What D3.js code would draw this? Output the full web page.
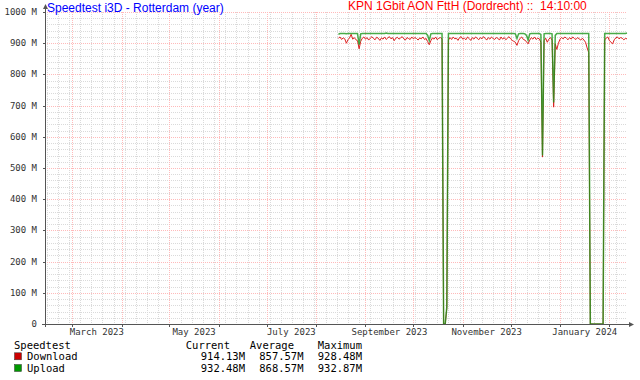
<!DOCTYPE html>
<html>
<head>
<meta charset="utf-8">
<script src="https://cdn.jsdelivr.net/npm/d3@7"></script>
<style>
  body { margin: 0; background: #fff; }
  svg { display: block; }
</style>
</head>
<body>
<svg id="chart" width="640" height="380"></svg>
<script>
// time window of the graph (one year) and first day with measurements
const rangeStart = "2023-02-12";
const rangeEnd = "2024-02-12";
const dataStart = "2023-08-15";

// daily averages in Mbit/s, one value per day starting at dataStart
const download = [
  916, 920, 912, 917, 914, 900, 911, 917, 928.48, 913,
  918, 911, 908, 882, 906, 916, 920, 913, 918, 910,
  916, 921, 915, 911, 919, 916, 909, 917, 913, 920,
  912, 917, 921, 914, 918, 908, 916, 919, 913, 917,
  921, 914, 910, 918, 915, 912, 920, 914, 918, 915,
  910, 917, 914, 920, 912, 915, 905, 895, 908, 917,
  913, 920, 911, 916, 918, 914, 0, 0, 50, 910,
  918, 912, 920, 914, 916, 909, 918, 921, 913, 916,
  911, 920, 915, 909, 918, 913, 920, 916, 911, 918,
  914, 921, 916, 910, 918, 913, 920, 915, 912, 918,
  916, 910, 920, 913, 918, 911, 916, 921, 914, 909,
  906, 903, 893, 908, 916, 920, 912, 910, 904, 898,
  910, 918, 913, 920, 912, 916, 914, 903, 535, 908,
  916, 903, 913, 918, 910, 695, 898, 880, 900, 913,
  918, 914, 920, 916, 911, 918, 913, 920, 915, 912,
  918, 914, 910, 916, 910, 903, 885, 870, 0, 0,
  0, 0, 0, 0, 0, 0, 0, 910, 917, 920,
  908, 903, 898, 911, 917, 920, 914, 918, 916, 911,
  915, 914.13
];
const upload = [
  928, 931, 931, 931, 931, 930, 931, 931, 931, 931,
  931, 931, 931, 895, 930, 931, 931, 931, 931, 931,
  931, 931, 931, 931, 931, 931, 931, 931, 931, 931,
  932.87, 931, 931, 931, 931, 931, 931, 931, 931, 931,
  931, 931, 931, 931, 931, 931, 931, 931, 931, 931,
  931, 931, 931, 931, 931, 931, 925, 908, 930, 931,
  931, 931, 931, 931, 931, 931, 0, 0, 55, 931,
  931, 931, 931, 931, 931, 931, 931, 931, 931, 931,
  931, 931, 931, 931, 931, 931, 931, 931, 931, 931,
  931, 931, 931, 931, 931, 931, 931, 931, 931, 931,
  931, 931, 931, 931, 931, 931, 931, 931, 931, 931,
  931, 930, 915, 930, 931, 931, 931, 930, 925, 910,
  930, 931, 931, 931, 931, 931, 931, 928, 540, 930,
  931, 931, 931, 931, 930, 710, 925, 931, 931, 931,
  931, 931, 931, 931, 931, 931, 931, 931, 931, 931,
  931, 931, 931, 931, 931, 931, 931, 931, 0, 0,
  0, 0, 0, 0, 0, 0, 0, 931, 931, 931,
  931, 931, 931, 931, 931, 931, 931, 931, 931, 931,
  931, 932.48
];

const yTicks = [0, 100, 200, 300, 400, 500, 600, 700, 800, 900, 1000];
const yTickLabels = ["0", "100 M", "200 M", "300 M", "400 M", "500 M",
  "600 M", "700 M", "800 M", "900 M", "1000 M"];
const labelMonths = ["2023-03", "2023-05", "2023-07", "2023-09", "2023-11", "2024-01"];

const titleLeft = "Speedtest i3D - Rotterdam (year)";
const titleRight = "KPN 1Gbit AON FttH (Dordrecht) ::  14:10:00";
const legendTitle = "Speedtest";
const legendHeader = ["Current", "Average", "Maximum"];
const seriesNames = ["Download", "Upload"];
const seriesColors = ["#cc0000", "#009900"];
const currentValues = ["914.13M", "932.48M"];
const averageValues = ["857.57M", "868.57M"];
const maximumValues = ["928.48M", "932.87M"];

const svg = d3.select("#chart");
const plotL = 45, plotR = 627, plotT = 12, plotB = 324;
const mono = "'DejaVu Sans Mono', monospace";

const parseDay = d3.timeParse("%Y-%m-%d");
const parseMonth = d3.timeParse("%Y-%m");
const t0 = parseDay(rangeStart), t1 = parseDay(rangeEnd);
const day0 = parseDay(dataStart);

const x = d3.scaleTime().domain([t0, t1]).range([plotL, plotR]);
const y = d3.scaleLinear().domain([0, 1000]).range([plotB, plotT]);
const px = (v) => Math.round(v) + 0.5;

// grid
const minorColor = "#dadada", majorColor = "#ffbaba";
const grid = svg.append("g").attr("shape-rendering", "crispEdges");
const minorY = d3.range(0, 1001, 20).filter((v) => v % 100 !== 0);
grid.selectAll(".hmin").data(minorY).enter().append("line")
  .attr("x1", plotL).attr("x2", plotR)
  .attr("y1", (d) => px(y(d))).attr("y2", (d) => px(y(d)))
  .attr("stroke", minorColor).attr("stroke-dasharray", "1,1");
const minorX = d3.timeMonday.range(t0, t1);
grid.selectAll(".vmin").data(minorX).enter().append("line")
  .attr("y1", plotT).attr("y2", plotB)
  .attr("x1", (d) => px(x(d))).attr("x2", (d) => px(x(d)))
  .attr("stroke", minorColor).attr("stroke-dasharray", "1,1");
grid.selectAll(".hmaj").data(yTicks.slice(1)).enter().append("line")
  .attr("x1", plotL).attr("x2", plotR)
  .attr("y1", (d) => px(y(d))).attr("y2", (d) => px(y(d)))
  .attr("stroke", majorColor).attr("stroke-dasharray", "1,1");
const majorX = d3.timeMonth.range(t0, t1);
grid.selectAll(".vmaj").data(majorX).enter().append("line")
  .attr("y1", plotT).attr("y2", plotB)
  .attr("x1", (d) => px(x(d))).attr("x2", (d) => px(x(d)))
  .attr("stroke", majorColor).attr("stroke-dasharray", "1,1");

// series
const line = d3.line()
  .x((d, i) => x(d3.timeDay.offset(day0, i)))
  .y((d) => y(d));
svg.append("path").datum(download)
  .attr("d", line).attr("fill", "none")
  .attr("stroke", "#dd2020").attr("stroke-width", 1);
svg.append("path").datum(upload)
  .attr("d", line).attr("fill", "none")
  .attr("stroke", "#1a961a").attr("stroke-opacity", 0.8).attr("stroke-width", 1.5);

// axes
const axisColor = "#555";
const ax = svg.append("g").attr("shape-rendering", "crispEdges");
ax.append("line").attr("x1", plotL + 0.5).attr("x2", plotL + 0.5)
  .attr("y1", plotB + 3).attr("y2", plotT - 4).attr("stroke", axisColor);
ax.append("line").attr("x1", plotL - 3).attr("x2", plotR + 4)
  .attr("y1", plotB + 0.5).attr("y2", plotB + 0.5).attr("stroke", axisColor);
ax.selectAll(".ytick").data(yTicks).enter().append("line")
  .attr("x1", plotL - 2).attr("x2", plotL)
  .attr("y1", (d) => px(y(d))).attr("y2", (d) => px(y(d)))
  .attr("stroke", axisColor);
ax.selectAll(".xtick").data(majorX).enter().append("line")
  .attr("x1", (d) => px(x(d))).attr("x2", (d) => px(x(d)))
  .attr("y1", plotB).attr("y2", plotB + 3)
  .attr("stroke", axisColor);
svg.append("path")
  .attr("d", `M${plotL - 2},${plotT - 3}L${plotL + 0.5},${plotT - 8}L${plotL + 3},${plotT - 3}Z`)
  .attr("fill", axisColor);
svg.append("path")
  .attr("d", `M${plotR + 2},${plotB - 2}L${plotR + 7},${plotB + 0.5}L${plotR + 2},${plotB + 3}Z`)
  .attr("fill", axisColor);

// tick labels
svg.selectAll(".ylab").data(yTicks).enter().append("text")
  .attr("x", 37).attr("y", (d) => y(d) + 3)
  .attr("text-anchor", "end")
  .attr("font-family", mono).attr("font-size", 9).attr("fill", "#333")
  .text((d, i) => yTickLabels[i]);
const fmtMonth = d3.timeFormat("%B %Y");
svg.selectAll(".xlab").data(labelMonths.map(parseMonth)).enter().append("text")
  .attr("x", (d) => (x(d) + x(d3.timeMonth.offset(d, 1))) / 2)
  .attr("y", 335)
  .attr("text-anchor", "middle")
  .attr("font-family", mono).attr("font-size", 9).attr("fill", "#333")
  .text((d) => fmtMonth(d));

// titles
svg.append("text").attr("x", 47).attr("y", 12)
  .attr("font-family", "'Liberation Sans', Arial, sans-serif").attr("font-size", 12)
  .attr("fill", "#0000ff").text(titleLeft);
svg.append("text").attr("x", 348).attr("y", 10)
  .attr("font-family", "'Liberation Sans', Arial, sans-serif").attr("font-size", 12)
  .style("white-space", "pre")
  .attr("fill", "#ff0000").text(titleRight);

// legend
const leg = svg.append("g")
  .attr("font-family", mono).attr("font-size", 10.5).attr("fill", "#000");
leg.append("text").attr("x", 14).attr("y", 348.5).text(legendTitle);
const headerRight = [230, 294, 362];
legendHeader.forEach((h, i) => {
  leg.append("text").attr("x", headerRight[i]).attr("y", 348.5)
    .attr("text-anchor", "end").text(h);
});
const rowY = [360.3, 372];
seriesNames.forEach((name, i) => {
  leg.append("rect").attr("x", 14.5).attr("y", rowY[i] - 7.5)
    .attr("width", 7).attr("height", 7)
    .attr("fill", seriesColors[i]).attr("stroke", "#333").attr("stroke-width", 0.5);
  leg.append("text").attr("x", 27).attr("y", rowY[i]).text(name);
  leg.append("text").attr("x", 245).attr("y", rowY[i]).attr("text-anchor", "end").text(currentValues[i]);
  leg.append("text").attr("x", 303.5).attr("y", rowY[i]).attr("text-anchor", "end").text(averageValues[i]);
  leg.append("text").attr("x", 362).attr("y", rowY[i]).attr("text-anchor", "end").text(maximumValues[i]);
});
</script>
</body>
</html>
